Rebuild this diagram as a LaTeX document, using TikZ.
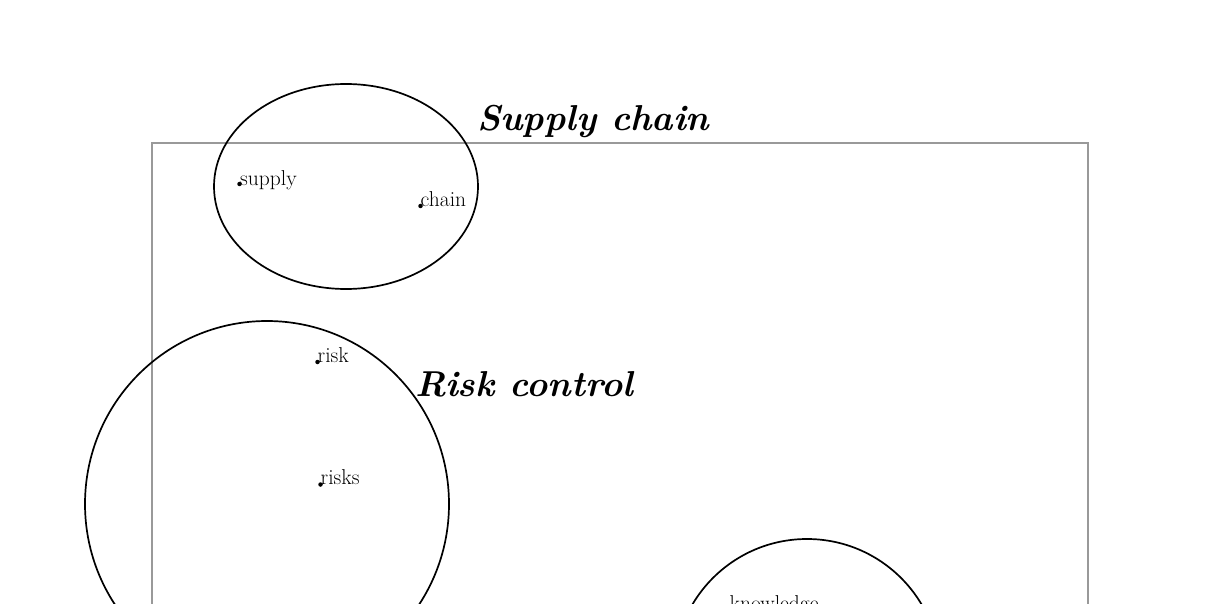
\documentclass[tikz,border=0pt]{standalone}
\usetikzlibrary{shapes.geometric}
\begin{document}
\begin{tikzpicture}[x=1pt,y=-1pt,
  cluster/.style={draw=black,line width=1.7pt,ellipse,inner sep=0pt},
  title/.style={font=\fontsize{36}{40}\selectfont\bfseries\itshape,anchor=base west,inner sep=0pt},
  term/.style={font=\fontsize{21.5}{24}\selectfont,anchor=base west,inner sep=0pt},
  pt/.style={circle,fill=black,inner sep=0pt,minimum size=4.5pt}]
\useasboundingbox (0,0) rectangle (1210,604);
\draw[draw=black!40,line width=1.1pt] (152,700) |- (1088,143) -- (1088,700);
\node[cluster,minimum width=264pt,minimum height=205pt] (c1) at (346,186.5) {};
\node[cluster,minimum width=364pt,minimum height=366pt] (c2) at (267,504) {};
\node[cluster,minimum width=266pt,minimum height=266pt] (c3) at (807,672) {};
\node[title] (t1) at (477,131) {Supply chain};
\node[title] (t2) at (415,396) {Risk control};
\node[pt] (p1) at (239.5,184) {};
\node[term] (l1) at (240,185.5) {supply};
\node[pt] (p2) at (420.5,206) {};
\node[term] (l2) at (420.5,206.5) {chain};
\node[pt] (p3) at (317.5,362) {};
\node[term] (l3) at (317.5,362.5) {risk};
\node[pt] (p4) at (320.5,484.5) {};
\node[term] (l4) at (320.5,484.5) {risks};
\node[pt] (p5) at (729,610) {};
\node[term] (l5) at (729.5,610) {knowledge};
\end{tikzpicture}
\end{document}
